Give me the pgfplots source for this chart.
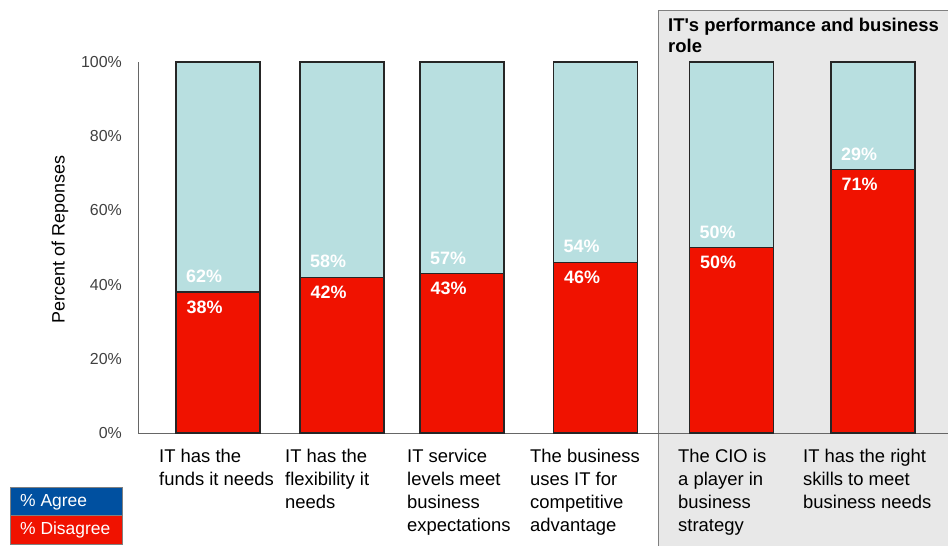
\documentclass[border=0pt]{standalone}
\usepackage{pgfplots}
\pgfplotsset{compat=1.18}
\usepackage{fontspec}
\setmainfont{Liberation Sans}
\definecolor{agreeblue}{RGB}{184,223,224}
\definecolor{disred}{RGB}{240,18,0}
\definecolor{legblue}{RGB}{0,80,160}
\definecolor{boxgray}{RGB}{232,232,232}
\begin{document}
\begin{tikzpicture}
\useasboundingbox (0,0) rectangle (948bp,-546bp);
\begin{scope}[x=1bp,y=-1bp]
\fill[boxgray] (658,10) rectangle (960,560);
\draw[gray, line width=1bp] (658,560) -- (658,10) -- (960,10);
\node[anchor=north west, align=left, font=\fontsize{18.5}{21}\selectfont\bfseries, inner sep=0pt] at (668,18) {IT\textquotesingle s performance and business\\role};
\end{scope}
\begin{axis}[
  at={(138bp,-433bp)}, anchor=south west, scale only axis,
  width=810bp, height=371bp,
  xmin=138, xmax=948, ymin=0, ymax=100,
  ybar, bar shift=0pt, bar width=84,
  axis x line*=bottom, axis y line*=left,
  axis line style={black!60, line width=0.8bp},
  major tick length=0pt,
  /pgf/number format/assume math mode=true,
  ytick={0,20,40,60,80,100},
  yticklabel={\pgfmathprintnumber{\tick}\%},
  yticklabel style={font=\fontsize{16}{18}\selectfont, text=black!75, anchor=east, inner sep=0pt, xshift=-16bp},
  xtick={159,285,407,530,678,803},
  xticklabels={{IT has the\\funds it needs},{IT has the\\flexibility it\\needs},{IT service\\levels meet\\business\\expectations},{The business\\uses IT for\\competitive\\advantage},{The CIO is\\a player in\\business\\strategy},{IT has the right\\skills to meet\\business needs}},
  xticklabel style={anchor=north west, align=left, inner sep=0pt, yshift=-16bp, font=\fontsize{18.5}{23}\selectfont},
  ylabel={Percent of Reponses},
  ylabel style={at={(axis description cs:-0.0963,0.5216)}, anchor=center, font=\fontsize{18}{20}\selectfont},
  clip=false,
]
\addplot[fill=agreeblue, draw=black!85, line width=1.2bp] coordinates {(218,100) (342,100) (462,100) (595.5,100) (731.5,100) (873,100)};
\addplot[fill=disred, draw=black!85, line width=1.2bp,
  nodes near coords={\pgfmathprintnumber{\pgfplotspointmeta}\%},
  nodes near coords style={anchor=north west, inner sep=0pt, xshift=-32bp, yshift=-8bp, text=white, font=\fontsize{18}{20}\selectfont\bfseries}]
  coordinates {(218,38) (342,42) (462,43) (595.5,46) (731.5,50) (873,71)};
\addplot[draw=none, fill=none, point meta=explicit,
  nodes near coords={\pgfmathprintnumber{\pgfplotspointmeta}\%},
  nodes near coords style={anchor=south west, inner sep=0pt, xshift=-32bp, yshift=9bp, text=white, font=\fontsize{18}{20}\selectfont\bfseries}]
  coordinates {(218,38) [62] (342,42) [58] (462,43) [57] (595.5,46) [54] (731.5,50) [50] (873,71) [29]};
\end{axis}
\begin{scope}[x=1bp,y=-1bp]
\fill[legblue] (10,487) rectangle (122,515);
\fill[disred] (10,515) rectangle (122,544);
\draw[gray, line width=0.8bp] (10,487) rectangle (122,544);
\draw[gray, line width=0.8bp] (10,515) -- (122,515);
\node[anchor=west, inner sep=0pt, text=white, font=\fontsize{17.5}{19}\selectfont] at (20,502) {\% Agree};
\node[anchor=west, inner sep=0pt, text=white, font=\fontsize{17.5}{19}\selectfont] at (20,530) {\% Disagree};
\end{scope}
\end{tikzpicture}
\end{document}
